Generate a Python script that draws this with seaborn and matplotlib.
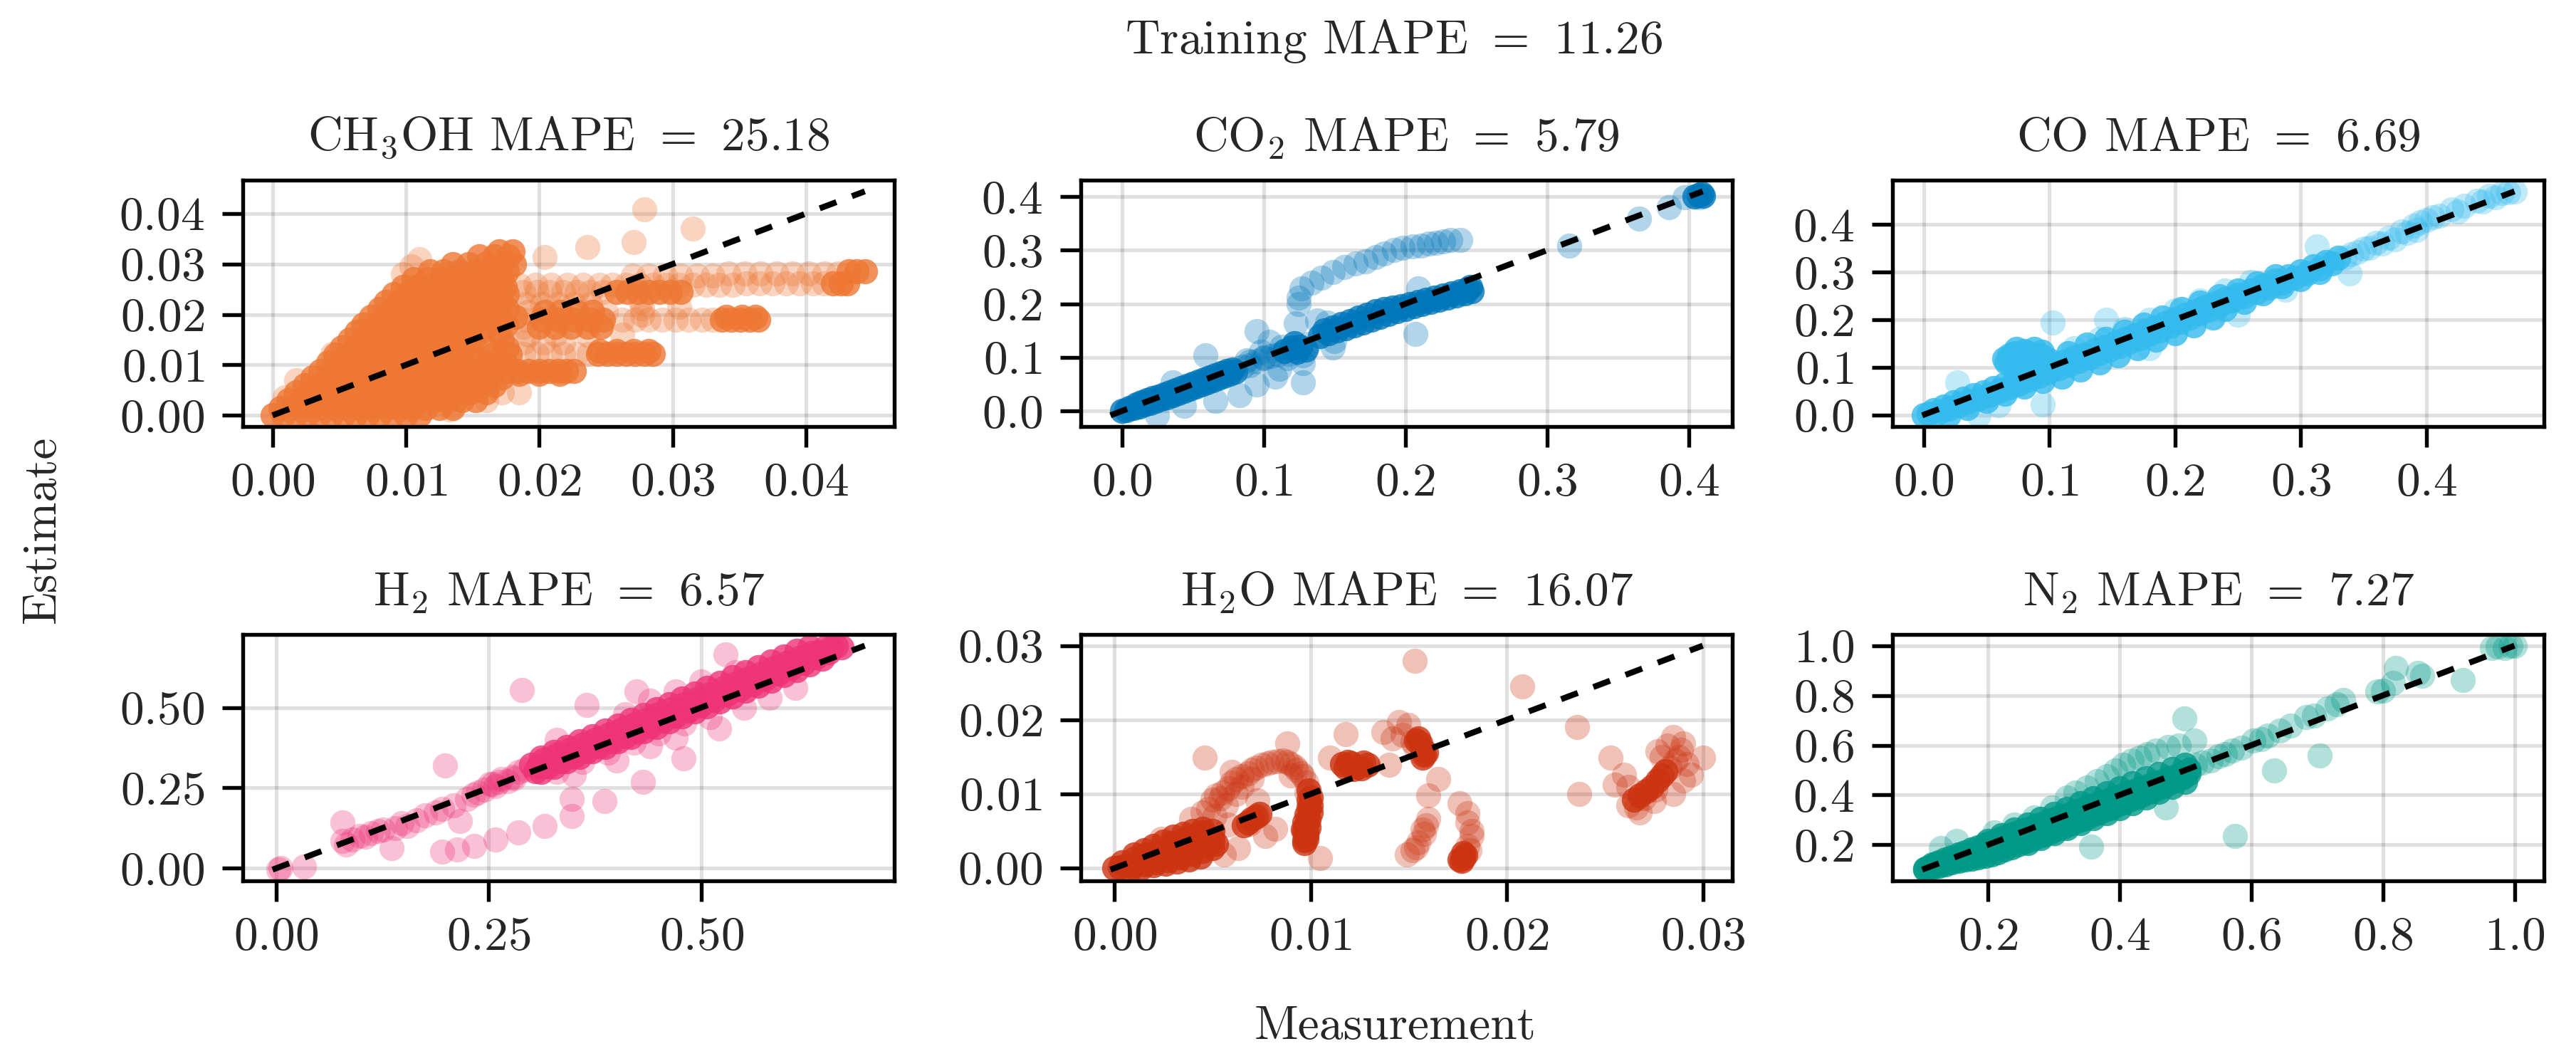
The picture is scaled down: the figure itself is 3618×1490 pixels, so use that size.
import matplotlib
matplotlib.use("Agg")
import matplotlib.pyplot as plt
from matplotlib.ticker import MultipleLocator
import seaborn as sns
import pandas as pd

# ---------------- data ----------------
# CH3OH readings come in horizontal streaks: (estimate, [measurements])
ch3oh_core_rows = [
    (0.0000, [0.0000, 0.0008, 0.0017, 0.0026, 0.0035, 0.0044, 0.0053, 0.0062, 0.0071, 0.0080, 0.0090, 0.0100, 0.0110]),
    (0.0015, [0.0006, 0.0015, 0.0025, 0.0035, 0.0045, 0.0055, 0.0065, 0.0075, 0.0085, 0.0095, 0.0105, 0.0115, 0.0125, 0.0135]),
    (0.0030, [0.0012, 0.0022, 0.0032, 0.0042, 0.0052, 0.0062, 0.0072, 0.0082, 0.0092, 0.0102, 0.0112, 0.0122, 0.0132, 0.0142, 0.0152]),
    (0.0045, [0.0018, 0.0028, 0.0038, 0.0048, 0.0058, 0.0068, 0.0078, 0.0088, 0.0098, 0.0108, 0.0118, 0.0128, 0.0138, 0.0148, 0.0160]),
    (0.0060, [0.0024, 0.0034, 0.0044, 0.0054, 0.0064, 0.0074, 0.0084, 0.0094, 0.0104, 0.0114, 0.0124, 0.0134, 0.0144, 0.0154, 0.0166]),
    (0.0075, [0.0030, 0.0040, 0.0050, 0.0060, 0.0070, 0.0080, 0.0090, 0.0100, 0.0110, 0.0120, 0.0130, 0.0140, 0.0150, 0.0160, 0.0172]),
    (0.0088, [0.0036, 0.0046, 0.0056, 0.0066, 0.0076, 0.0086, 0.0096, 0.0106, 0.0116, 0.0126, 0.0136, 0.0146, 0.0156, 0.0166, 0.0176,
              0.0184, 0.0192, 0.0200, 0.0207, 0.0214, 0.0220, 0.0226]),
    (0.0082, [0.0185, 0.0200, 0.0215]),
    (0.0105, [0.0042, 0.0052, 0.0062, 0.0072, 0.0082, 0.0092, 0.0102, 0.0112, 0.0122, 0.0132, 0.0142, 0.0152, 0.0162, 0.0174]),
    (0.0120, [0.0047, 0.0057, 0.0067, 0.0077, 0.0087, 0.0097, 0.0107, 0.0117, 0.0127, 0.0137, 0.0150, 0.0165, 0.0178]),
    (0.0122, [0.0244, 0.0251, 0.0258, 0.0265, 0.0272, 0.0279, 0.0285]),
    (0.0128, [0.0245, 0.0258, 0.0271, 0.0282]),
    (0.0135, [0.0052, 0.0062, 0.0072, 0.0082, 0.0092, 0.0102, 0.0112, 0.0122, 0.0132, 0.0142, 0.0160, 0.0176]),
    (0.0150, [0.0058, 0.0068, 0.0078, 0.0088, 0.0098, 0.0108, 0.0118, 0.0128, 0.0138, 0.0150, 0.0172]),
    (0.0165, [0.0063, 0.0073, 0.0083, 0.0093, 0.0103, 0.0113, 0.0123, 0.0133, 0.0143, 0.0156, 0.0170]),
    (0.0175, [0.0200, 0.0212, 0.0224, 0.0236, 0.0246]),
    (0.0180, [0.0068, 0.0078, 0.0088, 0.0098, 0.0108, 0.0118, 0.0128, 0.0138, 0.0150, 0.0162, 0.0175]),
    (0.0190, [0.0202, 0.0214, 0.0226, 0.0238, 0.0248, 0.0337, 0.0344, 0.0351, 0.0358, 0.0364]),
    (0.0195, [0.0074, 0.0084, 0.0094, 0.0104, 0.0114, 0.0124, 0.0134, 0.0146, 0.0158, 0.0170, 0.0182, 0.0340, 0.0352, 0.0362]),
    (0.0205, [0.0204, 0.0216, 0.0228, 0.0240]),
    (0.0210, [0.0080, 0.0090, 0.0100, 0.0110, 0.0120, 0.0130, 0.0140, 0.0152, 0.0164, 0.0176]),
    (0.0225, [0.0085, 0.0095, 0.0105, 0.0115, 0.0125, 0.0135, 0.0147, 0.0160, 0.0172]),
    (0.0240, [0.0091, 0.0101, 0.0111, 0.0121, 0.0131, 0.0141, 0.0152, 0.0164, 0.0176]),
    (0.0245, [0.0258, 0.0266, 0.0274, 0.0282, 0.0290, 0.0298, 0.0306]),
    (0.0255, [0.0098, 0.0108, 0.0118, 0.0128, 0.0138, 0.0150, 0.0162, 0.0174]),
    (0.0262, [0.0420, 0.0426, 0.0431]),
    (0.0270, [0.0106, 0.0116, 0.0126, 0.0136, 0.0148, 0.0160, 0.0172]),
    (0.0285, [0.0118, 0.0128, 0.0140, 0.0152, 0.0164, 0.0176, 0.0432, 0.0438, 0.0444]),
    (0.0300, [0.0135, 0.0147, 0.0159, 0.0171, 0.0181]),
    (0.0315, [0.0155, 0.0166, 0.0177]),
    (0.0325, [0.0170, 0.0180]),
]
ch3oh_light_rows = [
    (0.0030, [0.0160]),
    (0.0045, [0.0172, 0.0185]),
    (0.0122, [0.0188, 0.0198, 0.0208, 0.0218, 0.0228, 0.0237]),
    (0.0145, [0.0188, 0.0203, 0.0218]),
    (0.0160, [0.0192, 0.0212, 0.0236, 0.0262]),
    (0.0175, [0.0188]),
    (0.0190, [0.0190, 0.0262, 0.0272, 0.0282, 0.0292, 0.0302, 0.0312, 0.0322, 0.0330]),
    (0.0205, [0.0192, 0.0250]),
    (0.0220, [0.0190, 0.0202, 0.0214, 0.0226, 0.0238]),
    (0.0245, [0.0188, 0.0198, 0.0208, 0.0218, 0.0228, 0.0238, 0.0248]),
    (0.0258, [0.0185, 0.0197, 0.0209, 0.0221, 0.0233, 0.0245, 0.0255, 0.0265, 0.0275, 0.0285, 0.0295, 0.0305, 0.0315, 0.0325,
              0.0335, 0.0345]),
    (0.0262, [0.0355, 0.0365, 0.0375, 0.0385, 0.0395, 0.0405, 0.0413]),
    (0.0277, [0.0270, 0.0282, 0.0294, 0.0306, 0.0318, 0.0330]),
    (0.0281, [0.0342, 0.0354, 0.0366, 0.0378, 0.0390, 0.0402, 0.0414, 0.0424]),
]
ch3oh_sparse = [
    (0.0279, 0.0408), (0.0315, 0.0370), (0.0271, 0.0343), (0.0236, 0.0334), (0.0204, 0.0314),
    (0.0110, 0.0310), (0.0104, 0.0295), (0.0098, 0.0280), (0.0068, 0.0170), (0.0045, 0.0122),
    (0.0133, 0.0012), (0.0009, 0.0036), (0.0018, 0.0070), (0.0305, 0.0215), (0.0276, 0.0225),
    (0.0277, 0.0212), (0.0277, 0.0200),
]

co2_core = [
    (0.000, 0.000), (0.003, 0.002), (0.005, 0.006), (0.008, 0.005), (0.010, 0.012), (0.012, 0.008),
    (0.014, 0.016), (0.016, 0.012), (0.018, 0.020), (0.020, 0.015), (0.022, 0.024), (0.024, 0.019),
    (0.026, 0.027), (0.028, 0.023), (0.030, 0.031), (0.032, 0.026), (0.034, 0.035), (0.036, 0.030),
    (0.038, 0.039), (0.040, 0.034), (0.042, 0.043), (0.044, 0.038), (0.046, 0.047), (0.048, 0.042),
    (0.050, 0.051), (0.052, 0.046), (0.054, 0.055), (0.056, 0.050), (0.058, 0.059), (0.060, 0.054),
    (0.062, 0.063), (0.064, 0.058), (0.066, 0.067), (0.068, 0.062), (0.070, 0.071), (0.072, 0.066),
    (0.074, 0.075), (0.076, 0.070), (0.078, 0.078), (0.080, 0.074),
    (0.115, 0.112), (0.120, 0.118), (0.124, 0.110), (0.126, 0.120), (0.130, 0.114), (0.122, 0.127),
    (0.140, 0.140), (0.143, 0.150), (0.146, 0.145), (0.149, 0.156), (0.152, 0.150), (0.155, 0.162),
    (0.158, 0.155), (0.161, 0.168), (0.164, 0.160), (0.167, 0.174), (0.170, 0.165), (0.173, 0.180),
    (0.176, 0.170), (0.179, 0.186), (0.182, 0.176), (0.185, 0.190), (0.188, 0.181), (0.191, 0.193),
    (0.194, 0.186), (0.197, 0.196), (0.200, 0.191), (0.203, 0.199), (0.206, 0.196), (0.209, 0.203),
    (0.212, 0.200), (0.215, 0.207), (0.218, 0.204), (0.221, 0.211), (0.224, 0.208), (0.227, 0.215),
    (0.230, 0.212), (0.233, 0.220), (0.236, 0.216), (0.239, 0.224), (0.242, 0.220), (0.244, 0.228),
    (0.246, 0.232), (0.247, 0.224),
    (0.404, 0.401), (0.407, 0.403), (0.409, 0.405), (0.410, 0.402),
]
co2_sparse = [
    (0.025, -0.008), (0.044, 0.009), (0.066, 0.019), (0.083, 0.029), (0.036, 0.054), (0.059, 0.104),
    (0.095, 0.149), (0.104, 0.129), (0.111, 0.079), (0.108, 0.064), (0.095, 0.049), (0.128, 0.054),
    (0.128, 0.089), (0.123, 0.164), (0.125, 0.199), (0.090, 0.085), (0.100, 0.100),
    (0.110, 0.105), (0.118, 0.106), (0.132, 0.125), (0.113, 0.120), (0.117, 0.099), (0.128, 0.104),
    (0.085, 0.083), (0.090, 0.092), (0.095, 0.094), (0.100, 0.098), (0.105, 0.102), (0.088, 0.095),
    (0.098, 0.110),
    (0.125, 0.212), (0.127, 0.229), (0.134, 0.240), (0.141, 0.249), (0.149, 0.260), (0.157, 0.269),
    (0.165, 0.275), (0.172, 0.279), (0.179, 0.287), (0.185, 0.294), (0.192, 0.300), (0.198, 0.304),
    (0.205, 0.307), (0.211, 0.309), (0.217, 0.312), (0.222, 0.314), (0.227, 0.317), (0.232, 0.319),
    (0.239, 0.319),
    (0.207, 0.144), (0.149, 0.119), (0.138, 0.169), (0.209, 0.229), (0.150, 0.130), (0.145, 0.165),
    (0.316, 0.309), (0.365, 0.359), (0.386, 0.381), (0.397, 0.399), (0.408, 0.399),
]

co_core = [
    (0.000, 0.000), (0.004, 0.003), (0.008, 0.010), (0.012, 0.006), (0.016, 0.018), (0.020, 0.013),
    (0.024, 0.026), (0.028, 0.020), (0.032, 0.034), (0.036, 0.028), (0.040, 0.042), (0.044, 0.034),
    (0.048, 0.048), (0.052, 0.042), (0.056, 0.056), (0.060, 0.050), (0.064, 0.064), (0.068, 0.058),
    (0.072, 0.072), (0.076, 0.066), (0.080, 0.080), (0.084, 0.074), (0.088, 0.088), (0.092, 0.082),
    (0.096, 0.095), (0.100, 0.090), (0.104, 0.104), (0.108, 0.098), (0.112, 0.112), (0.116, 0.106),
    (0.120, 0.120), (0.124, 0.113), (0.128, 0.127), (0.132, 0.121), (0.136, 0.135), (0.140, 0.129),
    (0.144, 0.143), (0.148, 0.137), (0.152, 0.151), (0.156, 0.145), (0.160, 0.160), (0.164, 0.153),
    (0.168, 0.167), (0.172, 0.161), (0.176, 0.176), (0.180, 0.170), (0.184, 0.184), (0.188, 0.178),
    (0.192, 0.193), (0.196, 0.187), (0.200, 0.201), (0.204, 0.196), (0.208, 0.210), (0.212, 0.205),
    (0.216, 0.218), (0.220, 0.214), (0.224, 0.227), (0.228, 0.222), (0.232, 0.235), (0.236, 0.231),
    (0.240, 0.243), (0.245, 0.240), (0.250, 0.252), (0.255, 0.250), (0.260, 0.262), (0.265, 0.258),
    (0.270, 0.272), (0.275, 0.268), (0.280, 0.282), (0.285, 0.278), (0.290, 0.292), (0.295, 0.289),
    (0.300, 0.302), (0.305, 0.298), (0.310, 0.312), (0.315, 0.308), (0.320, 0.322), (0.325, 0.318),
    (0.330, 0.330),
    (0.110, 0.080), (0.125, 0.095), (0.140, 0.110), (0.155, 0.125), (0.170, 0.140), (0.185, 0.158),
    (0.200, 0.172), (0.215, 0.188), (0.230, 0.205),
    (0.100, 0.115), (0.115, 0.130), (0.130, 0.148), (0.145, 0.160), (0.160, 0.175), (0.175, 0.190),
    (0.190, 0.205), (0.205, 0.222), (0.220, 0.236), (0.235, 0.250), (0.250, 0.262), (0.265, 0.276),
    (0.280, 0.292),
    (0.020, 0.000), (0.035, 0.015), (0.050, 0.030), (0.065, 0.045), (0.080, 0.060), (0.095, 0.072),
    (0.240, 0.222), (0.255, 0.238), (0.270, 0.255), (0.285, 0.270), (0.300, 0.285), (0.315, 0.300),
    (0.066, 0.110), (0.070, 0.120), (0.072, 0.130), (0.076, 0.112), (0.078, 0.124), (0.080, 0.134),
    (0.084, 0.118), (0.086, 0.128), (0.088, 0.138), (0.092, 0.125), (0.068, 0.125), (0.074, 0.138),
    (0.082, 0.110), (0.090, 0.114), (0.064, 0.118), (0.094, 0.132), (0.070, 0.105), (0.096, 0.120),
]
co_sparse = [
    (0.120, 0.140), (0.140, 0.160), (0.160, 0.180), (0.180, 0.200), (0.200, 0.220), (0.220, 0.240),
    (0.240, 0.262), (0.260, 0.280),
    (0.103, 0.194), (0.145, 0.200), (0.027, 0.068), (0.044, -0.001), (0.095, 0.022), (0.313, 0.355),
    (0.339, 0.297), (0.288, 0.263), (0.060, 0.020), (0.180, 0.140), (0.250, 0.210),
    (0.335, 0.330), (0.340, 0.338), (0.345, 0.342), (0.350, 0.350), (0.355, 0.352), (0.360, 0.362),
    (0.365, 0.360), (0.370, 0.372), (0.375, 0.370), (0.380, 0.385), (0.385, 0.382), (0.390, 0.398),
    (0.392, 0.388), (0.395, 0.405), (0.400, 0.410), (0.405, 0.415), (0.410, 0.418), (0.420, 0.432),
    (0.425, 0.428), (0.430, 0.440), (0.440, 0.450), (0.445, 0.448), (0.450, 0.460), (0.455, 0.458),
    (0.460, 0.466), (0.465, 0.468), (0.470, 0.470),
]

h2_core = [
    (0.300, 0.322), (0.305, 0.303), (0.315, 0.338), (0.320, 0.318), (0.330, 0.352), (0.335, 0.333),
    (0.345, 0.368), (0.350, 0.348), (0.360, 0.383), (0.365, 0.363), (0.375, 0.399), (0.380, 0.379),
    (0.390, 0.414), (0.395, 0.394), (0.405, 0.430), (0.410, 0.410), (0.420, 0.446), (0.425, 0.426),
    (0.435, 0.462), (0.440, 0.442), (0.450, 0.478), (0.455, 0.458), (0.465, 0.494), (0.470, 0.474),
    (0.480, 0.510), (0.485, 0.490), (0.495, 0.526), (0.500, 0.507), (0.510, 0.542), (0.515, 0.523),
    (0.525, 0.558), (0.530, 0.540), (0.540, 0.574), (0.545, 0.556), (0.555, 0.590), (0.560, 0.572),
    (0.570, 0.606), (0.575, 0.589), (0.585, 0.622), (0.590, 0.605), (0.600, 0.638), (0.605, 0.622),
    (0.615, 0.654), (0.620, 0.638), (0.630, 0.670), (0.635, 0.655), (0.645, 0.684), (0.650, 0.671),
    (0.658, 0.692), (0.665, 0.688),
    (0.308, 0.318), (0.323, 0.334), (0.338, 0.350), (0.353, 0.366), (0.368, 0.382), (0.383, 0.397),
    (0.398, 0.413), (0.413, 0.429), (0.428, 0.445), (0.443, 0.461), (0.458, 0.477), (0.473, 0.493),
    (0.488, 0.509), (0.503, 0.525), (0.518, 0.541), (0.533, 0.558), (0.548, 0.574), (0.563, 0.590),
    (0.578, 0.607), (0.593, 0.623), (0.608, 0.640), (0.623, 0.656), (0.638, 0.672), (0.652, 0.685),
    (0.312, 0.345), (0.327, 0.362), (0.342, 0.378), (0.357, 0.395), (0.372, 0.411), (0.387, 0.428),
    (0.402, 0.444), (0.417, 0.461), (0.432, 0.477), (0.447, 0.494), (0.462, 0.511), (0.477, 0.527),
    (0.492, 0.544), (0.507, 0.560), (0.522, 0.577), (0.537, 0.593), (0.552, 0.610), (0.567, 0.626),
    (0.582, 0.643), (0.597, 0.659), (0.612, 0.675), (0.627, 0.688),
    (0.312, 0.300), (0.327, 0.316), (0.342, 0.332), (0.357, 0.347), (0.372, 0.363), (0.387, 0.378),
    (0.402, 0.394), (0.417, 0.409), (0.432, 0.425), (0.447, 0.440), (0.462, 0.456), (0.477, 0.472),
    (0.492, 0.487), (0.507, 0.503), (0.522, 0.519), (0.537, 0.535), (0.552, 0.551), (0.567, 0.567),
    (0.582, 0.584), (0.597, 0.600), (0.612, 0.617), (0.627, 0.634), (0.642, 0.652),
]
h2_sparse = [
    (0.005, 0.001), (0.033, 0.006), (0.003, -0.004),
    (0.078, 0.085), (0.082, 0.075), (0.078, 0.142), (0.090, 0.090), (0.098, 0.100), (0.105, 0.098),
    (0.112, 0.110), (0.120, 0.115), (0.126, 0.121), (0.136, 0.064), (0.140, 0.125), (0.148, 0.140),
    (0.154, 0.132), (0.165, 0.150), (0.175, 0.165), (0.188, 0.174), (0.195, 0.185), (0.209, 0.195),
    (0.216, 0.147), (0.199, 0.320), (0.225, 0.215), (0.237, 0.236), (0.245, 0.245), (0.251, 0.263),
    (0.258, 0.255), (0.265, 0.278), (0.272, 0.270), (0.285, 0.299), (0.289, 0.555),
    (0.232, 0.228), (0.262, 0.268), (0.278, 0.285), (0.292, 0.306), (0.255, 0.262), (0.280, 0.280),
    (0.195, 0.053), (0.213, 0.059), (0.233, 0.069), (0.258, 0.090), (0.285, 0.111), (0.316, 0.132),
    (0.348, 0.163), (0.348, 0.215), (0.386, 0.210), (0.431, 0.268), (0.479, 0.341), (0.365, 0.508),
    (0.424, 0.550), (0.528, 0.665), (0.521, 0.435),
    (0.330, 0.300), (0.360, 0.330), (0.390, 0.360), (0.420, 0.390), (0.450, 0.420), (0.480, 0.450),
    (0.510, 0.470), (0.550, 0.500), (0.580, 0.530), (0.610, 0.560), (0.350, 0.290), (0.400, 0.335),
    (0.440, 0.380), (0.470, 0.405),
    (0.410, 0.480), (0.440, 0.520), (0.470, 0.550), (0.500, 0.580), (0.330, 0.400), (0.540, 0.610),
]

h2o_core = [
    (0.0000, 0.0000), (0.0003, 0.0001), (0.0006, 0.0004), (0.0009, 0.0002), (0.0012, 0.0008),
    (0.0015, 0.0005), (0.0018, 0.0012), (0.0021, 0.0008), (0.0024, 0.0016), (0.0027, 0.0011),
    (0.0030, 0.0020), (0.0033, 0.0015), (0.0036, 0.0024), (0.0039, 0.0019), (0.0042, 0.0028),
    (0.0045, 0.0023), (0.0048, 0.0032), (0.0050, 0.0027), (0.0004, 0.0008), (0.0010, 0.0013),
    (0.0016, 0.0018), (0.0022, 0.0022), (0.0028, 0.0027), (0.0034, 0.0031), (0.0040, 0.0035),
    (0.0046, 0.0039), (0.0008, -0.0002), (0.0014, 0.0001), (0.0020, 0.0004), (0.0026, 0.0006),
    (0.0032, 0.0009), (0.0038, 0.0012), (0.0044, 0.0016), (0.0045, 0.0048), (0.0040, 0.0042),
    (0.0035, 0.0038), (0.0030, 0.0034),
    (0.0020, 0.0030), (0.0025, 0.0036), (0.0030, 0.0042), (0.0035, 0.0046), (0.0015, 0.0024),
    (0.0010, 0.0018), (0.0040, 0.0050), (0.0045, 0.0053), (0.0050, 0.0050), (0.0050, 0.0040),
    (0.0052, 0.0033),
    (0.0099, 0.0105), (0.0100, 0.0095), (0.0100, 0.0085), (0.0100, 0.0075), (0.0099, 0.0065),
    (0.0099, 0.0055), (0.0098, 0.0047), (0.0098, 0.0040), (0.0097, 0.0034), (0.0096, 0.0052),
    (0.0097, 0.0062), (0.0098, 0.0072), (0.0099, 0.0082), (0.0099, 0.0092), (0.0097, 0.0038),
    (0.0098, 0.0045), (0.0097, 0.0050), (0.0098, 0.0058),
    (0.0066, 0.0058), (0.0068, 0.0062), (0.0070, 0.0066), (0.0072, 0.0069), (0.0074, 0.0073),
    (0.0118, 0.0136), (0.0121, 0.0141), (0.0124, 0.0137), (0.0127, 0.0142), (0.0119, 0.0143),
    (0.0126, 0.0135), (0.0122, 0.0134), (0.0129, 0.0139), (0.0116, 0.0140),
    (0.0155, 0.0175), (0.0156, 0.0168), (0.0157, 0.0160), (0.0158, 0.0153), (0.0154, 0.0172),
    (0.0157, 0.0149), (0.0159, 0.0156),
    (0.0178, 0.0020), (0.0178, 0.0014), (0.0177, 0.0010), (0.0179, 0.0017), (0.0176, 0.0012),
    (0.0265, 0.0092), (0.0268, 0.0098), (0.0271, 0.0104), (0.0274, 0.0110), (0.0277, 0.0118),
    (0.0279, 0.0125), (0.0281, 0.0131),
]
h2o_sparse = [
    (0.0024, 0.0040), (0.0039, 0.0066), (0.0050, 0.0037), (0.0063, 0.0027), (0.0056, 0.0018),
    (0.0046, 0.0149),
    (0.0048, 0.0080), (0.0050, 0.0092), (0.0055, 0.0102), (0.0060, 0.0115), (0.0065, 0.0124),
    (0.0070, 0.0133), (0.0075, 0.0139), (0.0080, 0.0143), (0.0086, 0.0145), (0.0090, 0.0140),
    (0.0093, 0.0133), (0.0096, 0.0124), (0.0098, 0.0115), (0.0098, 0.0102),
    (0.0045, 0.0075), (0.0052, 0.0098), (0.0058, 0.0108), (0.0062, 0.0120), (0.0068, 0.0128),
    (0.0072, 0.0136), (0.0078, 0.0141), (0.0083, 0.0144), (0.0088, 0.0143), (0.0092, 0.0137),
    (0.0095, 0.0128), (0.0057, 0.0085), (0.0062, 0.0100), (0.0051, 0.0070),
    (0.0054, 0.0094), (0.0058, 0.0059), (0.0073, 0.0091), (0.0077, 0.0043), (0.0082, 0.0053),
    (0.0088, 0.0168), (0.0105, 0.0014), (0.0060, 0.0130), (0.0065, 0.0110), (0.0070, 0.0120),
    (0.0090, 0.0125), (0.0069, 0.0060), (0.0073, 0.0071),
    (0.0118, 0.0181), (0.0110, 0.0149), (0.0140, 0.0139), (0.0137, 0.0184), (0.0145, 0.0197),
    (0.0150, 0.0193), (0.0153, 0.0280), (0.0142, 0.0175), (0.0147, 0.0180), (0.0152, 0.0170),
    (0.0153, 0.0165),
    (0.0165, 0.0120), (0.0160, 0.0098), (0.0160, 0.0066), (0.0159, 0.0058), (0.0158, 0.0046),
    (0.0152, 0.0024), (0.0149, 0.0018), (0.0155, 0.0035), (0.0157, 0.0052), (0.0154, 0.0028),
    (0.0176, 0.0088), (0.0180, 0.0074), (0.0180, 0.0062), (0.0182, 0.0050), (0.0182, 0.0043),
    (0.0180, 0.0030), (0.0181, 0.0024),
    (0.0208, 0.0245), (0.0236, 0.0190), (0.0237, 0.0100), (0.0253, 0.0149),
    (0.0262, 0.0085), (0.0283, 0.0136), (0.0266, 0.0082), (0.0270, 0.0094), (0.0276, 0.0106),
    (0.0285, 0.0177), (0.0290, 0.0168), (0.0300, 0.0149), (0.0294, 0.0126), (0.0285, 0.0100),
    (0.0277, 0.0158), (0.0260, 0.0126), (0.0255, 0.0113), (0.0288, 0.0150), (0.0292, 0.0140),
    (0.0282, 0.0165), (0.0290, 0.0118), (0.0268, 0.0075), (0.0275, 0.0090), (0.0286, 0.0145),
    (0.0279, 0.0150), (0.0289, 0.0160), (0.0262, 0.0110),
]

n2_core = [
    (0.105, 0.105), (0.105, 0.100), (0.115, 0.120), (0.115, 0.108), (0.125, 0.130), (0.125, 0.115),
    (0.135, 0.140), (0.135, 0.120), (0.145, 0.150), (0.145, 0.128), (0.155, 0.160), (0.155, 0.135),
    (0.165, 0.170), (0.165, 0.140), (0.175, 0.180), (0.175, 0.145), (0.185, 0.190), (0.185, 0.150),
    (0.195, 0.200), (0.195, 0.155), (0.205, 0.210), (0.205, 0.162), (0.215, 0.220), (0.215, 0.170),
    (0.225, 0.230), (0.225, 0.180), (0.235, 0.240), (0.235, 0.190), (0.245, 0.250), (0.245, 0.200),
    (0.255, 0.258), (0.255, 0.212), (0.265, 0.268), (0.265, 0.222), (0.275, 0.278), (0.275, 0.232),
    (0.285, 0.287), (0.285, 0.242), (0.295, 0.297), (0.295, 0.252), (0.305, 0.306), (0.305, 0.263),
    (0.315, 0.315), (0.315, 0.273), (0.325, 0.325), (0.325, 0.284), (0.335, 0.335), (0.335, 0.294),
    (0.345, 0.344), (0.345, 0.305), (0.355, 0.354), (0.355, 0.316), (0.365, 0.363), (0.365, 0.326),
    (0.375, 0.372), (0.375, 0.337), (0.385, 0.382), (0.385, 0.348), (0.395, 0.391), (0.395, 0.358),
    (0.405, 0.400), (0.405, 0.369), (0.415, 0.410), (0.415, 0.380), (0.425, 0.419), (0.425, 0.391),
    (0.435, 0.429), (0.435, 0.402), (0.445, 0.438), (0.445, 0.413), (0.455, 0.448), (0.455, 0.424),
    (0.465, 0.457), (0.465, 0.435), (0.475, 0.467), (0.475, 0.446), (0.485, 0.477), (0.485, 0.458),
    (0.495, 0.487), (0.495, 0.470), (0.505, 0.500), (0.505, 0.488),
    (0.110, 0.108), (0.120, 0.120), (0.130, 0.125), (0.140, 0.132), (0.150, 0.140), (0.160, 0.148),
    (0.170, 0.155), (0.180, 0.162), (0.190, 0.170), (0.200, 0.178), (0.210, 0.186), (0.220, 0.195),
    (0.230, 0.205), (0.240, 0.215), (0.250, 0.226), (0.260, 0.236), (0.270, 0.246), (0.280, 0.256),
    (0.290, 0.265), (0.300, 0.275), (0.310, 0.285), (0.320, 0.295), (0.330, 0.305), (0.340, 0.315),
    (0.350, 0.326), (0.360, 0.336), (0.370, 0.346), (0.380, 0.356), (0.390, 0.366), (0.400, 0.376),
    (0.410, 0.386), (0.420, 0.396), (0.430, 0.406), (0.440, 0.417), (0.450, 0.427), (0.460, 0.437),
    (0.470, 0.448), (0.480, 0.458), (0.490, 0.469), (0.500, 0.480),
    (0.200, 0.215), (0.220, 0.238), (0.240, 0.260), (0.260, 0.282), (0.280, 0.303), (0.300, 0.324),
    (0.320, 0.345), (0.340, 0.366), (0.360, 0.386), (0.380, 0.406), (0.400, 0.426), (0.420, 0.446),
    (0.440, 0.466), (0.460, 0.485), (0.480, 0.503), (0.500, 0.520),
    (0.260, 0.208), (0.280, 0.228), (0.300, 0.248), (0.320, 0.268), (0.340, 0.288), (0.360, 0.308),
    (0.380, 0.328), (0.400, 0.348), (0.420, 0.368), (0.440, 0.390), (0.460, 0.412), (0.480, 0.432),
    (0.500, 0.452),
]
n2_sparse = [
    (0.498, 0.707), (0.474, 0.592), (0.514, 0.619), (0.442, 0.565), (0.418, 0.538), (0.393, 0.498),
    (0.365, 0.457), (0.333, 0.410), (0.297, 0.349), (0.240, 0.281), (0.152, 0.214), (0.128, 0.187),
    (0.455, 0.580), (0.490, 0.600), (0.430, 0.550), (0.405, 0.520), (0.380, 0.475), (0.350, 0.430),
    (0.320, 0.390), (0.270, 0.310), (0.210, 0.250),
    (0.357, 0.193), (0.470, 0.349), (0.575, 0.234), (0.635, 0.498), (0.704, 0.559), (0.921, 0.863),
    (0.515, 0.520), (0.525, 0.530), (0.538, 0.538), (0.550, 0.555), (0.560, 0.565), (0.571, 0.579),
    (0.585, 0.590), (0.603, 0.619), (0.615, 0.625), (0.625, 0.640), (0.643, 0.660), (0.660, 0.680),
    (0.683, 0.714), (0.695, 0.720), (0.716, 0.748), (0.730, 0.765), (0.740, 0.782), (0.792, 0.816),
    (0.800, 0.820), (0.816, 0.850), (0.820, 0.910), (0.853, 0.890), (0.860, 0.880), (0.966, 0.992),
    (0.975, 0.995), (0.994, 0.998), (1.000, 1.000), (0.985, 0.990),
]

species_titles = [r"CH$_3$OH MAPE $=$ 25.18", r"CO$_2$ MAPE $=$ 5.79", r"CO MAPE $=$ 6.69",
                  r"H$_2$ MAPE $=$ 6.57", r"H$_2$O MAPE $=$ 16.07", r"N$_2$ MAPE $=$ 7.27"]
species_colors = ["#EE7733", "#0077BB", "#33BBEE", "#EE3377", "#CC3311", "#009988"]
tick_steps = [0.01, 0.1, 0.1, 0.25, 0.01, 0.2]
training_mape = "11.26"

# ---------------- build tables ----------------
ch3oh_core = [(x, y) for y, xs in ch3oh_core_rows for x in xs]
ch3oh_light = [(x, y) for y, xs in ch3oh_light_rows for x in xs] + ch3oh_sparse
panels = [(ch3oh_core, ch3oh_light), (co2_core, co2_sparse), (co_core, co_sparse),
          (h2_core, h2_sparse), (h2o_core, h2o_sparse), (n2_core, n2_sparse)]


def to_frame(core, sparse):
    df = pd.DataFrame(core + sparse, columns=["Measurement", "Estimate"])
    df["dense"] = [True] * len(core) + [False] * len(sparse)
    return df


frames = [to_frame(c, s) for c, s in panels]

# ---------------- style ----------------
sns.set_style("ticks")
plt.rcParams.update({
    "font.family": ["cmr10", "DejaVu Serif"],
    "mathtext.fontset": "cm",
    "axes.formatter.use_mathtext": True,
    "axes.unicode_minus": False,
    "font.size": 16.2,
    "axes.titlesize": 16.2,
    "xtick.labelsize": 16.2,
    "ytick.labelsize": 16.2,
    "axes.linewidth": 1.3,
    "axes.edgecolor": "black",
})

fig = plt.figure(figsize=(3618 / 300, 1490 / 300), dpi=300)
lefts = [0.0943, 0.4196, 0.7347]
bottoms = [0.5980, 0.1698]
w, h = 0.2529, 0.2322

for i, df in enumerate(frames):
    r, c = divmod(i, 3)
    ax = fig.add_axes([lefts[c], bottoms[r], w, h])
    # single readings, then the heavily overplotted core
    sns.scatterplot(data=df[~df["dense"]], x="Measurement", y="Estimate", color=species_colors[i],
                    alpha=0.3, s=72, linewidth=0, ax=ax, zorder=2)
    sns.scatterplot(data=df[df["dense"]], x="Measurement", y="Estimate", color=species_colors[i],
                    alpha=0.8, s=72, linewidth=0, ax=ax, zorder=2)
    lo = min(df["Measurement"].min(), df["Estimate"].min())
    hi = max(df["Measurement"].max(), df["Estimate"].max())
    ax.plot([lo, hi], [lo, hi], color="black", lw=2.0, ls=(0, (3, 2.8)), zorder=3)
    ax.set_axisbelow(True)
    ax.grid(True, color="black", alpha=0.12, lw=1.25)
    ax.xaxis.set_major_locator(MultipleLocator(tick_steps[i]))
    ax.yaxis.set_major_locator(MultipleLocator(tick_steps[i]))
    ax.tick_params(axis="both", width=1.3, length=7, color="black")
    ax.tick_params(axis="y", pad=6)
    ax.tick_params(axis="x", pad=5)
    for sp in ax.spines.values():
        sp.set_linewidth(1.3)
        sp.set_color("black")
    ax.set_xlabel("")
    ax.set_ylabel("")
    ax.set_title(species_titles[i], pad=9.8)

fig.text(0.541, 0.961, "Training MAPE $=$ " + training_mape, ha="center", va="center")
fig.text(0.5417, 0.0208, "Measurement", ha="center", va="baseline")
fig.text(0.0166, 0.501, "Estimate", rotation=90, ha="center", va="center")

fig.savefig("out.png", dpi=300)
